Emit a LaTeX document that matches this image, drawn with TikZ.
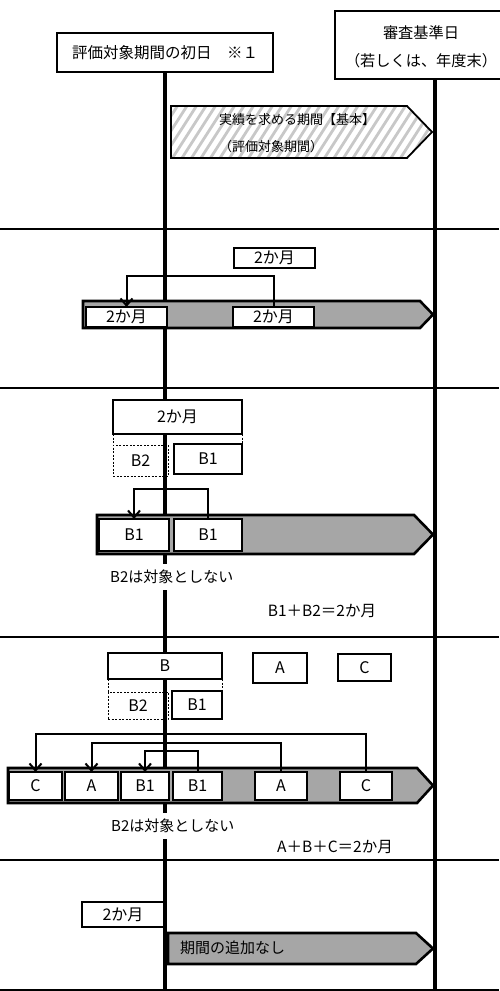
\documentclass[tikz,border=0pt]{standalone}
\usepackage{fontspec}
\setmainfont{Noto Sans CJK JP}
\usetikzlibrary{arrows.meta}
\definecolor{bargray}{RGB}{166,166,166}
\definecolor{hatchgray}{RGB}{200,200,200}
\begin{document}
\begin{tikzpicture}[x=1pt,y=-1pt,
  every node/.style={font=\fontsize{16}{19}\selectfont},
  box/.style={draw, line width=1.5pt, fill=white, inner sep=0pt, outer sep=0pt},
  dbox/.style={draw, line width=0.8pt, dash pattern=on 2pt off 1.5pt, inner sep=0pt, outer sep=0pt},
  dline/.style={line width=0.8pt, dash pattern=on 2pt off 1.5pt},
  bar/.style={draw, line width=2.6pt, fill=bargray, line join=miter},
  vline/.style={line width=4.3pt},
  sepline/.style={line width=1.5pt},
  conn/.style={line width=2pt, -{Straight Barb[length=7pt,width=12pt,line width=2pt]}},
  lbl/.style={inner sep=1pt, fill=white}
]
\useasboundingbox (0,0) rectangle (499,991);
\fill[white] (0,0) rectangle (499,991);

% separators
\draw[sepline] (0,229) -- (499,229);
\draw[sepline] (0,388) -- (499,388);
\draw[sepline] (0,637) -- (499,637);
\draw[sepline] (0,860) -- (499,860);
\draw[sepline] (0,990) -- (499,990);

% headers
\node[box, minimum width=216, minimum height=39, font=\fontsize{15.5}{18}\selectfont] (h1) at (165,52.5) {評価対象期間の初日　※１};
\node[box, minimum width=172, minimum height=68] (h2) at (421,45) {};
\node[align=center, inner sep=0pt, font=\fontsize{15.2}{27.5}\selectfont] (h2t) at (421,47) {審査基準日\\（若しくは、年度末）};
\coordinate (v1b) at (165,991);
\coordinate (v2b) at (435,991);
\draw[vline] (h1.south) -- (v1b);
\draw[vline] (h2.south -| v2b) -- (v2b);

% section 1: hatched arrow
\begin{scope}
\clip (171,106) -- (407,106) -- (432,132) -- (407,158) -- (171,158) -- cycle;
\fill[white] (171,106) rectangle (432,158);
\foreach \i in {0,...,34} \draw[hatchgray, line width=2.8pt] (130+\i*9.5,165) -- (175+\i*9.5,95);
\end{scope}
\draw[line width=1.8pt, line join=miter] (171,106) -- (407,106) -- (432,132) -- (407,158) -- (171,158) -- cycle;
\node[anchor=west, align=left, inner sep=0pt, font=\fontsize{13}{26.5}\selectfont] (t1) at (219,133) {実績を求める期間【基本】\\（評価対象期間）};

% section 2
\node[box, minimum width=81, minimum height=20] (t2) at (274.5,258) {2か月};
\draw[bar] (83,301) -- (420,301) -- (433,314.5) -- (420,328) -- (83,328) -- cycle;
\node[box, minimum width=81, minimum height=20] (l2) at (126.5,317) {2か月};
\node[box, minimum width=81, minimum height=20] (m2) at (273.5,317) {2か月};
\coordinate (c2) at (0,276);
\draw[conn] (m2.north) -- (m2.north |- c2) -| (l2.north);

% section 3
\node[box, minimum width=129, minimum height=34] (t3) at (177.5,417) {2か月};
\node[dbox, minimum width=55, minimum height=31] (b2a) at (140.5,460.5) {B2};
\node[box, minimum width=68, minimum height=30] (b1a) at (208,459) {B1};
\draw[dline] (t3.south west) -- (b2a.north west);
\draw[dline] (t3.south east) -- (b1a.north east);
\draw[bar] (97,515) -- (414,515) -- (433,534.5) -- (414,554) -- (97,554) -- cycle;
\node[box, minimum width=70, minimum height=32] (b1l) at (134,535) {B1};
\node[box, minimum width=68, minimum height=32] (b1r) at (208,535) {B1};
\coordinate (c3) at (0,489);
\draw[conn] (b1r.north) -- (b1r.north |- c3) -| (b1l.north);
\node[lbl, anchor=west, inner ysep=6pt, font=\fontsize{15}{18}\selectfont] (n3) at (109,577) {B2は対象としない};
\node[inner sep=0pt, font=\fontsize{15.5}{18}\selectfont] (s3) at (322,611) {B1＋B2＝2か月};

% section 4
\node[box, minimum width=114, minimum height=26] (bb) at (165,666) {B};
\node[box, minimum width=54, minimum height=30] (aa) at (280,668) {A};
\node[box, minimum width=53, minimum height=27] (cc) at (364.5,667.5) {C};
\node[dbox, minimum width=60, minimum height=27] (b2b) at (138,705.5) {B2};
\node[box, minimum width=50, minimum height=28] (b1b) at (197,705) {B1};
\draw[dline] (bb.south west) -- (b2b.north west);
\draw[dline] (bb.south east) -- (b1b.north east);
\draw[bar] (8,768) -- (417,768) -- (433,785.5) -- (417,803) -- (8,803) -- cycle;
\node[box, minimum width=53, minimum height=28] (c1) at (35.5,786) {C};
\node[box, minimum width=53, minimum height=28] (a1) at (91.5,786) {A};
\node[box, minimum width=48, minimum height=28] (b1c) at (145,786) {B1};
\node[box, minimum width=49, minimum height=28] (b1d) at (197.5,786) {B1};
\node[box, minimum width=52, minimum height=28] (a2) at (281,786) {A};
\node[box, minimum width=52, minimum height=28] (c2b) at (366,786) {C};
\coordinate (k1) at (0,734);
\coordinate (k2) at (0,743);
\coordinate (k3) at (0,751);
\draw[conn] (c2b.north) -- (c2b.north |- k1) -| (c1.north);
\draw[conn] (a2.north) -- (a2.north |- k2) -| (a1.north);
\draw[conn] (b1d.north) -- (b1d.north |- k3) -| (b1c.north);
\node[lbl, anchor=west, inner ysep=6pt, font=\fontsize{15}{18}\selectfont] (n4) at (110,826) {B2は対象としない};
\node[inner sep=0pt, font=\fontsize{15.5}{18}\selectfont] (s4) at (335,847) {A＋B＋C＝2か月};

% section 5
\node[box, minimum width=82, minimum height=25] (t5) at (123,914.5) {2か月};
\draw[bar] (168,933) -- (416,933) -- (433,948.5) -- (416,964) -- (168,964) -- cycle;
\node[anchor=west, inner sep=0pt, font=\fontsize{15}{18}\selectfont] (n5) at (180,948) {期間の追加なし};
\end{tikzpicture}
\end{document}
